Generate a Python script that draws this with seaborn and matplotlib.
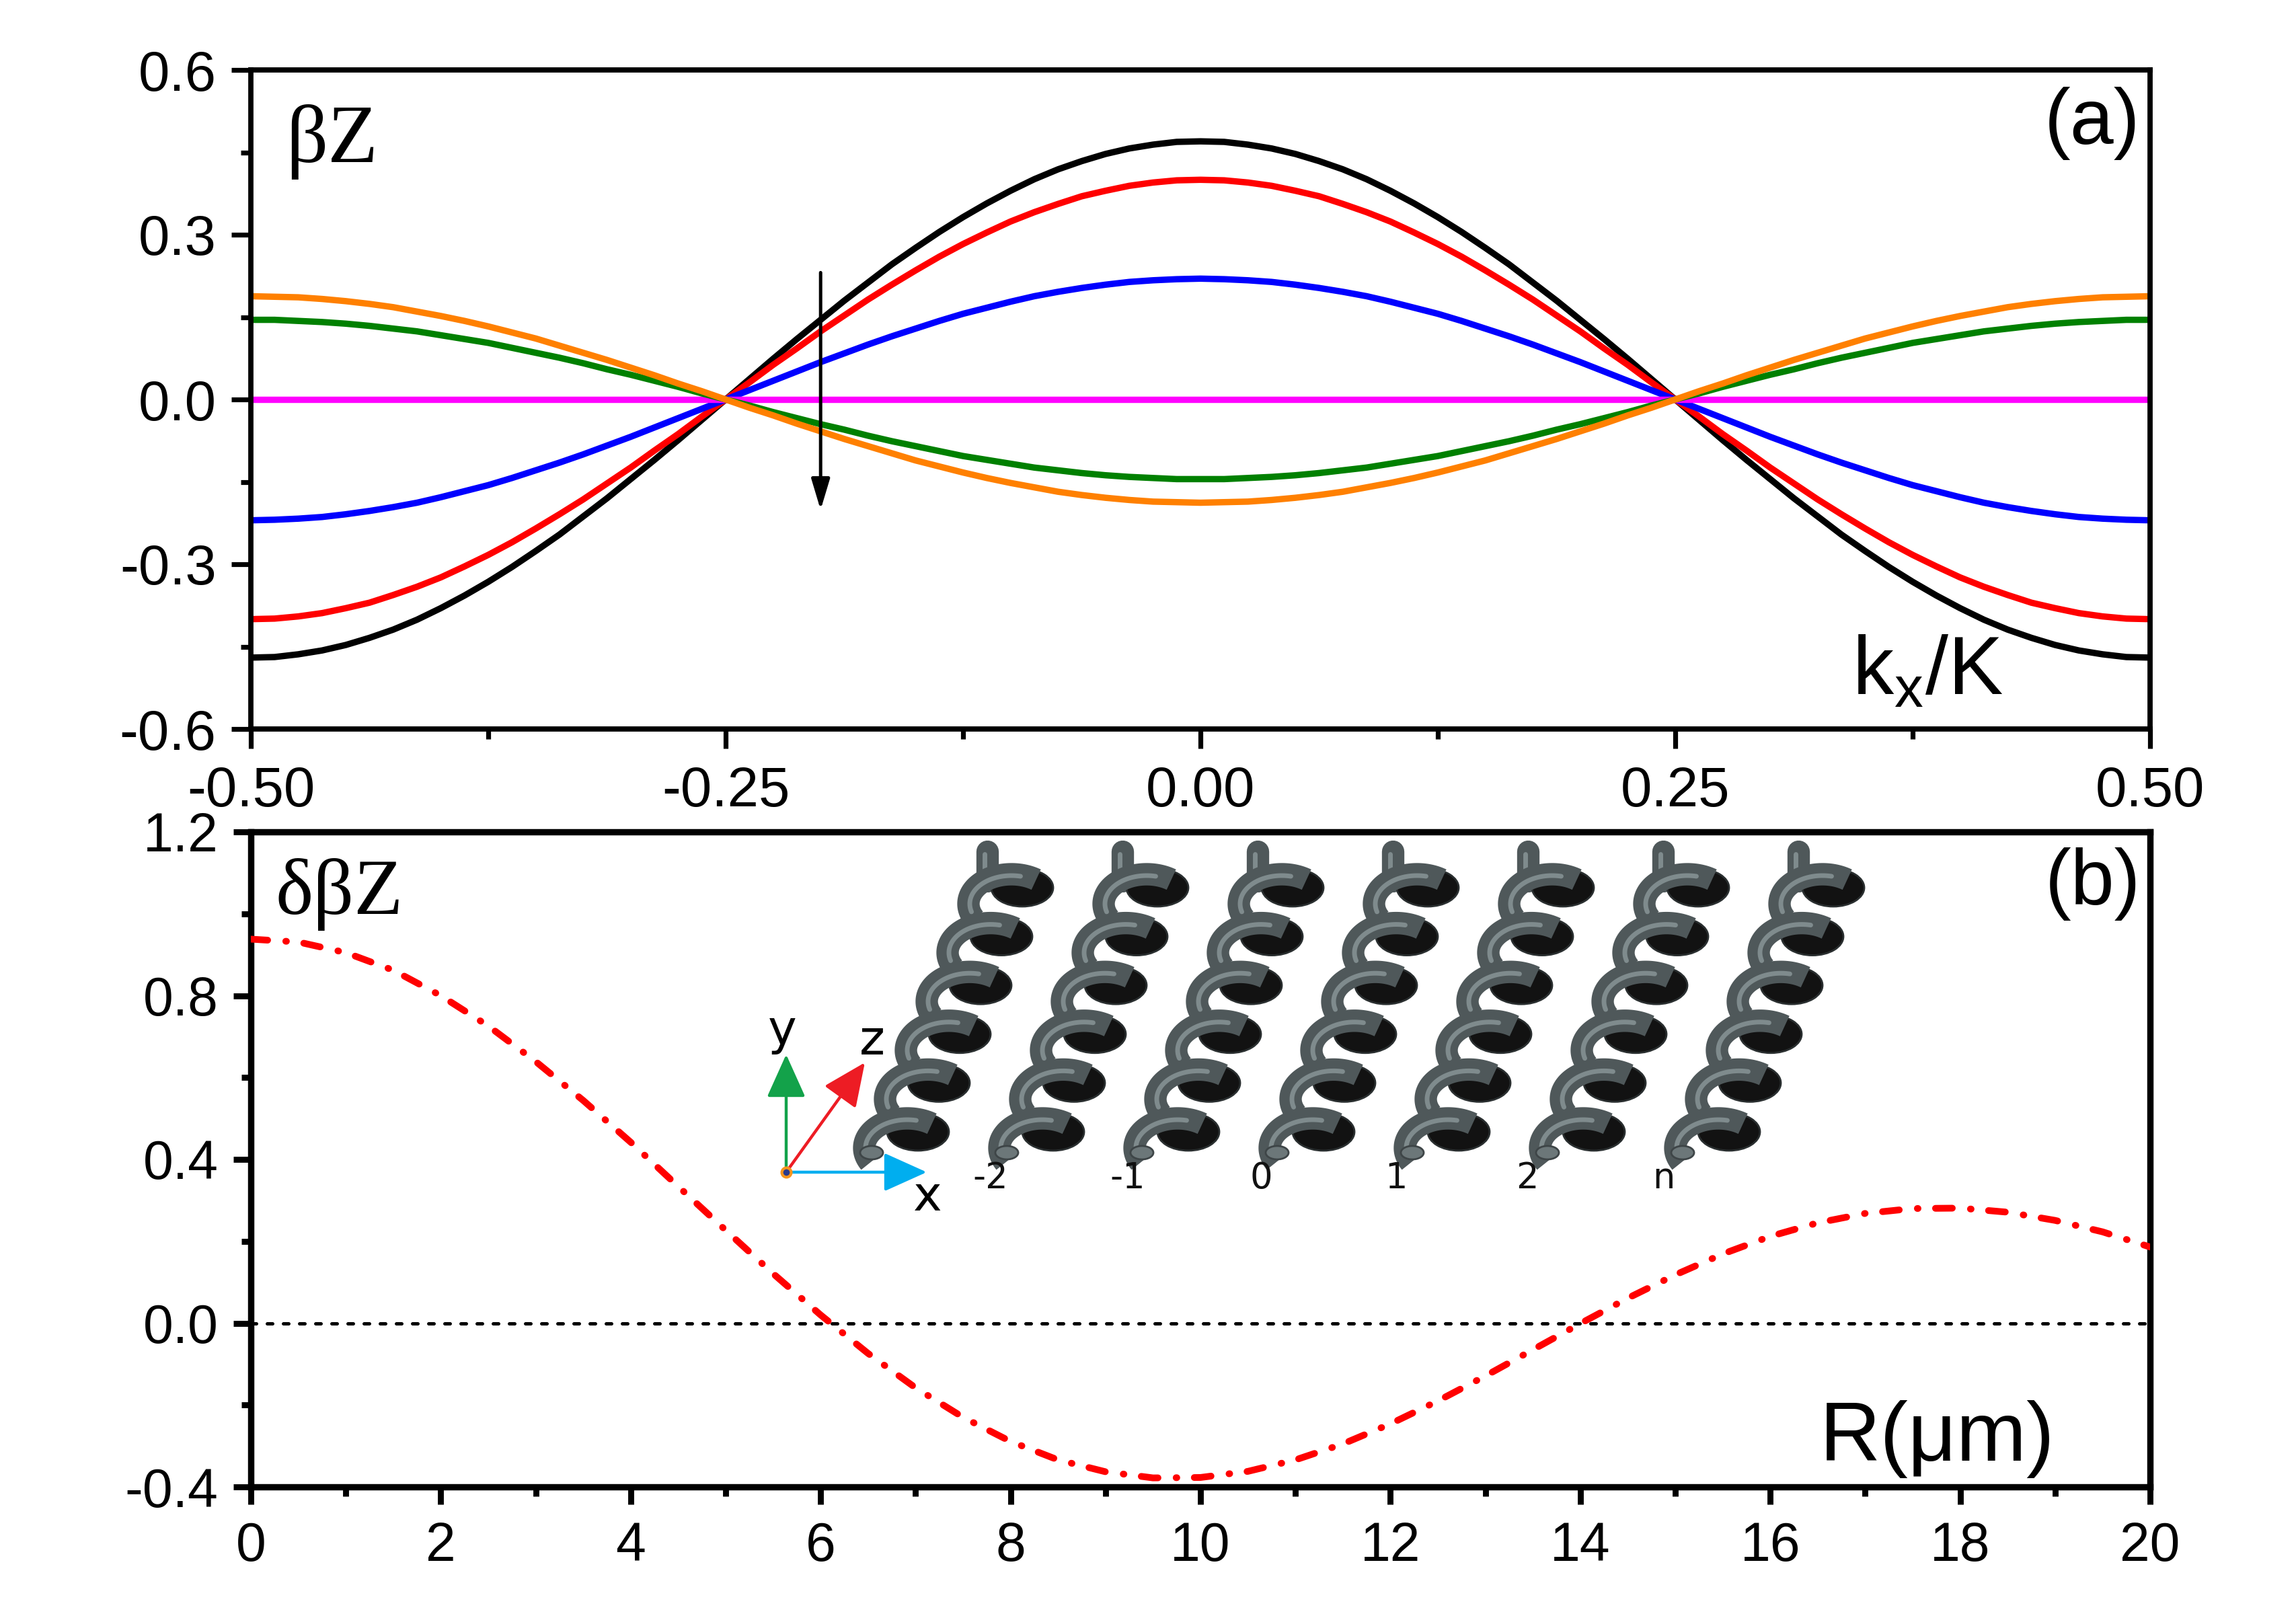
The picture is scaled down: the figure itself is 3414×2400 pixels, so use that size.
import numpy as np
import pandas as pd
import matplotlib
matplotlib.use('Agg')
import matplotlib.pyplot as plt
import seaborn as sns
from matplotlib.patches import Ellipse, FancyArrowPatch
from matplotlib.ticker import MultipleLocator

# ---------------- data: panel (a) ----------------
kx = [-0.5000, -0.4875, -0.4750, -0.4625, -0.4500, -0.4375, -0.4250, -0.4125, -0.4000, -0.3875,
      -0.3750, -0.3625, -0.3500, -0.3375, -0.3250, -0.3125, -0.3000, -0.2875, -0.2750, -0.2625,
      -0.2500, -0.2375, -0.2250, -0.2125, -0.2000, -0.1875, -0.1750, -0.1625, -0.1500, -0.1375,
      -0.1250, -0.1125, -0.1000, -0.0875, -0.0750, -0.0625, -0.0500, -0.0375, -0.0250, -0.0125,
      0.0000, 0.0125, 0.0250, 0.0375, 0.0500, 0.0625, 0.0750, 0.0875, 0.1000, 0.1125,
      0.1250, 0.1375, 0.1500, 0.1625, 0.1750, 0.1875, 0.2000, 0.2125, 0.2250, 0.2375,
      0.2500, 0.2625, 0.2750, 0.2875, 0.3000, 0.3125, 0.3250, 0.3375, 0.3500, 0.3625,
      0.3750, 0.3875, 0.4000, 0.4125, 0.4250, 0.4375, 0.4500, 0.4625, 0.4750, 0.4875, 0.5000]

bz_black = [-0.470, -0.469, -0.464, -0.457, -0.447, -0.434, -0.419, -0.401, -0.380, -0.357,
            -0.332, -0.305, -0.276, -0.246, -0.213, -0.180, -0.145, -0.110, -0.074, -0.037,
            0.000, 0.037, 0.074, 0.110, 0.145, 0.180, 0.213, 0.246, 0.276, 0.305,
            0.332, 0.357, 0.380, 0.401, 0.419, 0.434, 0.447, 0.457, 0.464, 0.469,
            0.470, 0.469, 0.464, 0.457, 0.447, 0.434, 0.419, 0.401, 0.380, 0.357,
            0.332, 0.305, 0.276, 0.246, 0.213, 0.180, 0.145, 0.110, 0.074, 0.037,
            0.000, -0.037, -0.074, -0.110, -0.145, -0.180, -0.213, -0.246, -0.276, -0.305,
            -0.332, -0.357, -0.380, -0.401, -0.419, -0.434, -0.447, -0.457, -0.464, -0.469, -0.470]
bz_red = [-0.400, -0.399, -0.395, -0.389, -0.380, -0.370, -0.356, -0.341, -0.324, -0.304,
          -0.283, -0.260, -0.235, -0.209, -0.182, -0.153, -0.124, -0.093, -0.063, -0.031,
          0.000, 0.031, 0.063, 0.093, 0.124, 0.153, 0.182, 0.209, 0.235, 0.260,
          0.283, 0.304, 0.324, 0.341, 0.356, 0.370, 0.380, 0.389, 0.395, 0.399,
          0.400, 0.399, 0.395, 0.389, 0.380, 0.370, 0.356, 0.341, 0.324, 0.304,
          0.283, 0.260, 0.235, 0.209, 0.182, 0.153, 0.124, 0.093, 0.063, 0.031,
          0.000, -0.031, -0.063, -0.093, -0.124, -0.153, -0.182, -0.209, -0.235, -0.260,
          -0.283, -0.304, -0.324, -0.341, -0.356, -0.370, -0.380, -0.389, -0.395, -0.399, -0.400]
bz_blue = [-0.220, -0.219, -0.217, -0.214, -0.209, -0.203, -0.196, -0.188, -0.178, -0.167,
           -0.156, -0.143, -0.129, -0.115, -0.100, -0.084, -0.068, -0.051, -0.034, -0.017,
           0.000, 0.017, 0.034, 0.051, 0.068, 0.084, 0.100, 0.115, 0.129, 0.143,
           0.156, 0.167, 0.178, 0.188, 0.196, 0.203, 0.209, 0.214, 0.217, 0.219,
           0.220, 0.219, 0.217, 0.214, 0.209, 0.203, 0.196, 0.188, 0.178, 0.167,
           0.156, 0.143, 0.129, 0.115, 0.100, 0.084, 0.068, 0.051, 0.034, 0.017,
           0.000, -0.017, -0.034, -0.051, -0.068, -0.084, -0.100, -0.115, -0.129, -0.143,
           -0.156, -0.167, -0.178, -0.188, -0.196, -0.203, -0.209, -0.214, -0.217, -0.219, -0.220]
bz_magenta = [0.0] * 81
bz_green = [0.145, 0.145, 0.143, 0.141, 0.138, 0.134, 0.129, 0.124, 0.117, 0.110,
            0.103, 0.094, 0.085, 0.076, 0.066, 0.055, 0.045, 0.034, 0.023, 0.011,
            0.000, -0.011, -0.023, -0.034, -0.045, -0.055, -0.066, -0.076, -0.085, -0.094,
            -0.103, -0.110, -0.117, -0.124, -0.129, -0.134, -0.138, -0.141, -0.143, -0.145,
            -0.145, -0.145, -0.143, -0.141, -0.138, -0.134, -0.129, -0.124, -0.117, -0.110,
            -0.103, -0.094, -0.085, -0.076, -0.066, -0.055, -0.045, -0.034, -0.023, -0.011,
            0.000, 0.011, 0.023, 0.034, 0.045, 0.055, 0.066, 0.076, 0.085, 0.094,
            0.103, 0.110, 0.117, 0.124, 0.129, 0.134, 0.138, 0.141, 0.143, 0.145, 0.145]
bz_orange = [0.188, 0.187, 0.186, 0.183, 0.179, 0.174, 0.168, 0.160, 0.152, 0.143,
             0.133, 0.122, 0.111, 0.098, 0.085, 0.072, 0.058, 0.044, 0.029, 0.015,
             0.000, -0.015, -0.029, -0.044, -0.058, -0.072, -0.085, -0.098, -0.111, -0.122,
             -0.133, -0.143, -0.152, -0.160, -0.168, -0.174, -0.179, -0.183, -0.186, -0.187,
             -0.188, -0.187, -0.186, -0.183, -0.179, -0.174, -0.168, -0.160, -0.152, -0.143,
             -0.133, -0.122, -0.111, -0.098, -0.085, -0.072, -0.058, -0.044, -0.029, -0.015,
             0.000, 0.015, 0.029, 0.044, 0.058, 0.072, 0.085, 0.098, 0.111, 0.122,
             0.133, 0.143, 0.152, 0.160, 0.168, 0.174, 0.179, 0.183, 0.186, 0.187, 0.188]

series_names = ['black', 'red', 'blue', 'magenta', 'green', 'orange']
series_values = [bz_black, bz_red, bz_blue, bz_magenta, bz_green, bz_orange]
series_colors = ['#000000', '#FF0000', '#0000FF', '#FF00FF', '#008000', '#FF8000']

a_xticks = [-0.50, -0.25, 0.00, 0.25, 0.50]
a_xticklabels = ['-0.50', '-0.25', '0.00', '0.25', '0.50']
a_yticks = [-0.6, -0.3, 0.0, 0.3, 0.6]
a_yticklabels = ['-0.6', '-0.3', '0.0', '0.3', '0.6']

# ---------------- data: panel (b) ----------------
R_um = [0.0, 0.5, 1.0, 1.5, 2.0, 2.5, 3.0, 3.5, 4.0, 4.5,
        5.0, 5.5, 6.0, 6.5, 7.0, 7.5, 8.0, 8.5, 9.0, 9.5,
        10.0, 10.5, 11.0, 11.5, 12.0, 12.5, 13.0, 13.5, 14.0, 14.5,
        15.0, 15.5, 16.0, 16.5, 17.0, 17.5, 18.0, 18.5, 19.0, 19.5, 20.0]
dbz = [0.938, 0.931, 0.905, 0.862, 0.800, 0.726, 0.639, 0.544, 0.442, 0.334,
       0.227, 0.121, 0.020, -0.074, -0.158, -0.230, -0.289, -0.334, -0.363, -0.378,
       -0.377, -0.362, -0.334, -0.295, -0.246, -0.190, -0.129, -0.065, -0.001, 0.061,
       0.118, 0.169, 0.212, 0.245, 0.268, 0.280, 0.281, 0.271, 0.251, 0.223, 0.186]

b_xticks = [0, 2, 4, 6, 8, 10, 12, 14, 16, 18, 20]
b_xticklabels = ['0', '2', '4', '6', '8', '10', '12', '14', '16', '18', '20']
b_yticks = [-0.4, 0.0, 0.4, 0.8, 1.2]
b_yticklabels = ['-0.4', '0.0', '0.4', '0.8', '1.2']

inset_labels = ['-2', '-1', '0', '1', '2', 'n']

# ---------------- style ----------------
sns.set_style('ticks')
plt.rcParams['font.family'] = ['Liberation Sans', 'DejaVu Sans']
plt.rcParams['axes.unicode_minus'] = False
plt.rcParams['mathtext.fontset'] = 'custom'
plt.rcParams['mathtext.rm'] = 'Liberation Sans'
plt.rcParams['mathtext.it'] = 'Liberation Sans:italic'
for key in ['text.color', 'axes.labelcolor', 'xtick.color', 'ytick.color',
            'xtick.labelcolor', 'ytick.labelcolor', 'axes.edgecolor']:
    plt.rcParams[key] = 'black'

SERIF = ['Liberation Serif', 'DejaVu Serif']
SANS = ['Liberation Sans', 'DejaVu Sans']

fig = plt.figure(figsize=(17.07, 12), dpi=200)
fig.patch.set_facecolor('white')

L, W = 373 / 3414, (3197 - 373) / 3414
ax1 = fig.add_axes([L, 1 - 1084 / 2400, W, (1084 - 104) / 2400])
ax2 = fig.add_axes([L, 1 - 2211 / 2400, W, (2211 - 1237) / 2400])


def style_axes(ax, labelsize, spine_w, tick_w, major_len, minor_len):
    for s in ax.spines.values():
        s.set_linewidth(spine_w)
        s.set_color('black')
        s.set_visible(True)
    ax.tick_params(which='major', direction='out', length=major_len, width=tick_w,
                   labelsize=labelsize, top=False, right=False, color='black',
                   labelcolor='black')
    ax.tick_params(which='minor', direction='out', length=minor_len, width=tick_w,
                   top=False, right=False, color='black')
    ax.tick_params(axis='x', which='major', pad=9)
    ax.tick_params(axis='y', which='major', pad=8)
    ax.set_xlabel('')
    ax.set_ylabel('')
    ax.grid(False)


# ---------------- panel (a) ----------------
df_a = pd.DataFrame({
    'kx': np.tile(kx, len(series_names)),
    'bz': np.concatenate([np.asarray(v, dtype=float) for v in series_values]),
    'curve': np.repeat(series_names, len(kx)),
})
for name, col in zip(series_names, series_colors):
    sns.lineplot(data=df_a[df_a['curve'] == name], x='kx', y='bz', color=col,
                 linewidth=3.4, ax=ax1, legend=False, estimator=None, sort=False)

ax1.set_xlim(-0.5, 0.5)
ax1.set_ylim(-0.6, 0.6)
ax1.set_xticks(a_xticks)
ax1.set_xticklabels(a_xticklabels)
ax1.set_yticks(a_yticks)
ax1.set_yticklabels(a_yticklabels)
ax1.xaxis.set_minor_locator(MultipleLocator(0.125))
ax1.yaxis.set_minor_locator(MultipleLocator(0.15))
style_axes(ax1, 30, 2.8, 2.6, 10.5, 5.5)

ax1.annotate('', xy=(-0.2, -0.201), xytext=(-0.2, 0.231),
             arrowprops=dict(arrowstyle='-|>,head_length=14,head_width=4.2',
                             mutation_scale=1, lw=1.8, color='black',
                             shrinkA=0, shrinkB=0))

ax1.text(0.0184, 0.860, 'βZ', transform=ax1.transAxes, fontsize=44,
         family=SERIF, ha='left', va='baseline', color='black')
ax1.text(0.9947, 0.919, '(a)', transform=ax1.transAxes, fontsize=42,
         family=SANS, ha='right', va='center', color='black')
ax1.text(0.843, 0.053, r'k$_\mathrm{x}$/K', transform=ax1.transAxes, fontsize=44,
         family=SANS, ha='left', va='baseline', color='black')

# ---------------- panel (b) ----------------
df_b = pd.DataFrame({'R': R_um, 'dbz': dbz})
ax2.axhline(0.0, color='black', lw=1.8, linestyle=(0, (1.6, 3.2)),
            dash_capstyle='round', zorder=1)
sns.lineplot(data=df_b, x='R', y='dbz', color='#FF0000', linewidth=3.6,
             ax=ax2, legend=False, estimator=None, sort=False, zorder=3)
line_b = ax2.get_lines()[-1]
line_b.set_linestyle((0, (2.5, 2.7, 0.1, 2.6)))
line_b.set_dash_capstyle('round')

ax2.set_xlim(0, 20)
ax2.set_ylim(-0.4, 1.2)
ax2.set_xticks(b_xticks)
ax2.set_xticklabels(b_xticklabels)
ax2.set_yticks(b_yticks)
ax2.set_yticklabels(b_yticklabels)
ax2.xaxis.set_minor_locator(MultipleLocator(1))
ax2.yaxis.set_minor_locator(MultipleLocator(0.2))
style_axes(ax2, 29, 3.4, 3.2, 9.5, 5.0)

ax2.text(0.0131, 0.875, 'δβZ', transform=ax2.transAxes, fontsize=43,
         family=SERIF, ha='left', va='baseline', color='black')
ax2.text(0.995, 0.920, '(b)', transform=ax2.transAxes, fontsize=42,
         family=SANS, ha='right', va='center', color='black')
ax2.text(0.826, 0.040, 'R(μm)', transform=ax2.transAxes, fontsize=45,
         family=SANS, ha='left', va='baseline', color='black')

# ---------------- inset illustration (helix array) ----------------
X0, X1, Y0, Y1 = 1100, 2800, 1240, 1810
ax3 = fig.add_axes([X0 / 3414, 1 - Y1 / 2400, (X1 - X0) / 3414, (Y1 - Y0) / 2400])
ax3.set_xlim(X0, X1)
ax3.set_ylim(Y1, Y0)
ax3.axis('off')
ax3.set_zorder(5)

TUBE = '#4f585a'
HIGH = '#7f8b8d'
BLOB = '#121212'
tube_lw = 12

th = np.linspace(np.deg2rad(210), np.deg2rad(55), 70)
for c in range(7):
    ox = 201 * c
    bx_top = 1514 + ox
    ax3.plot([bx_top - 46, bx_top - 46], [1266, 1310], color=TUBE, lw=tube_lw,
             solid_capstyle='round', zorder=1)
    ax3.plot([bx_top - 50, bx_top - 50], [1270, 1306], color=HIGH, lw=2.5,
             solid_capstyle='round', zorder=1)
    for k in range(5, -1, -1):
        bx = 1359 + 31 * k + ox
        by = 1680 - 72.6 * k
        ax3.add_patch(Ellipse((bx + 6, by + 3), 92, 56, facecolor=BLOB,
                              edgecolor='#2a2f30', lw=1.0, zorder=2 + (5 - k) * 3))
        cx, cy = bx - 10, by + 27
        xs = cx + 64 * np.cos(th)
        ys = cy - 44 * np.sin(th)
        ax3.plot(xs, ys, color=TUBE, lw=tube_lw, solid_capstyle='butt',
                 zorder=3 + (5 - k) * 3)
        xs2 = cx + 62 * np.cos(th[6:-10])
        ys2 = cy - 42 * np.sin(th[6:-10])
        ax3.plot(xs2, ys2, color=HIGH, lw=2.5, solid_capstyle='round',
                 zorder=4 + (5 - k) * 3)
    ax3.add_patch(Ellipse((1296 + ox, 1714), 34, 20, facecolor='#6c7779',
                          edgecolor='#3e4547', lw=1.0, zorder=40))

label_x = [1473, 1677, 1875, 2076, 2271, 2474]
for lx, lab in zip(label_x, inset_labels):
    ax3.text(lx, 1752, lab, fontsize=19, family=['DejaVu Sans'], ha='center',
             va='center', color='#111111', zorder=50)

ox_, oy_ = 1169, 1743
arrow_kw = dict(arrowstyle='-|>,head_length=20,head_width=9', mutation_scale=1,
                lw=1.6, shrinkA=0, shrinkB=0, zorder=45)
ax3.add_patch(FancyArrowPatch((ox_, oy_), (ox_, 1568), color='#13A24A', **arrow_kw))
ax3.add_patch(FancyArrowPatch((ox_, oy_), (1286, 1580), color='#ED1C24', **arrow_kw))
ax3.add_patch(FancyArrowPatch((ox_, oy_), (1378, oy_), color='#00AEEF', **arrow_kw))
ax3.plot([ox_], [oy_], marker='o', ms=5, mfc='#2b3a8c', mec='#F7941D', mew=1.5, zorder=46)
ax3.text(1163, 1534, 'y', fontsize=26, family=['DejaVu Sans'], ha='center', va='center', zorder=50)
ax3.text(1297, 1549, 'z', fontsize=26, family=['DejaVu Sans'], ha='center', va='center', zorder=50)
ax3.text(1379, 1780, 'x', fontsize=26, family=['DejaVu Sans'], ha='center', va='center', zorder=50)

fig.savefig('out.png', dpi=200, facecolor='white')
